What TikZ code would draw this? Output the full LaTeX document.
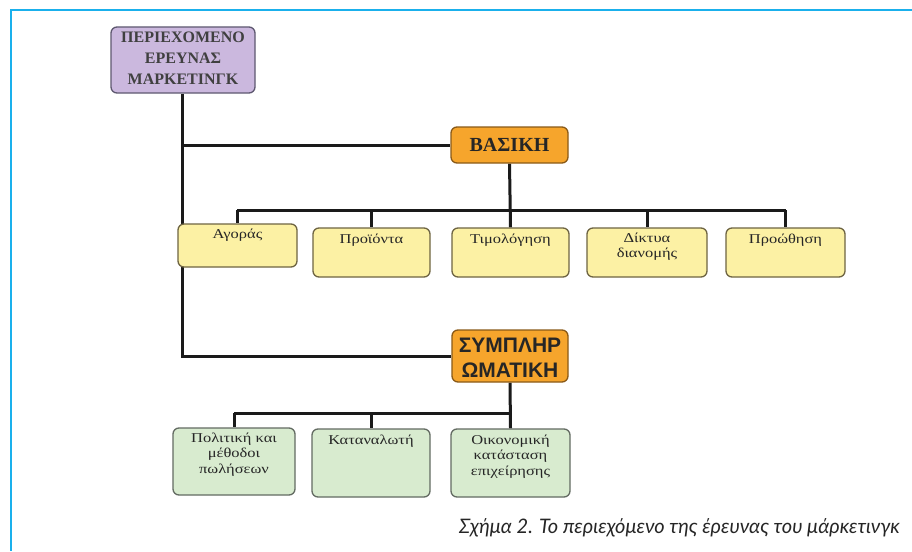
\documentclass[tikz,border=0pt]{standalone}
\usepackage{fontspec}
\setmainfont{Liberation Serif}
\newfontfamily\capfont{Lato}
\newfontfamily\boldsans{Liberation Sans}
\newfontfamily\widefont[FakeStretch=1.22]{Liberation Serif}
\usetikzlibrary{backgrounds}
\definecolor{frameblue}{HTML}{1AB0EC}
\definecolor{purplefill}{HTML}{CBB8DE}
\definecolor{purpleline}{HTML}{5E5870}
\definecolor{orangefill}{HTML}{F6A52C}
\definecolor{orangeline}{HTML}{8A5A18}
\definecolor{yellowfill}{HTML}{FCF1A4}
\definecolor{yellowline}{HTML}{6E6442}
\definecolor{greenfill}{HTML}{D8EBCF}
\definecolor{greenline}{HTML}{636B62}
\definecolor{inkline}{HTML}{1A1A1A}
\tikzset{
  boxbase/.style={draw, rounded corners=6pt, line width=1.3pt, inner sep=0pt},
  purplebox/.style={boxbase, fill=purplefill, draw=purpleline},
  orangebox/.style={boxbase, fill=orangefill, draw=orangeline},
  yellowbox/.style={boxbase, fill=yellowfill, draw=yellowline},
  greenbox/.style={boxbase, fill=greenfill, draw=greenline},
  boxtext/.style={anchor=north, align=center, inner sep=0pt, font=\widefont\fontsize{13.5}{15.5}\selectfont, text=black!85},
  conn/.style={draw=inkline, line width=3pt}
}
\begin{document}
\begin{tikzpicture}[x=1pt,y=-1pt]
\useasboundingbox (0,0) rectangle (912,551);

% boxes
\node[purplebox, minimum width=144pt, minimum height=66pt] (top) at (183,60) {};
\node[orangebox, minimum width=117pt, minimum height=36pt] (basiki) at (509.5,145) {};
\node[yellowbox, minimum width=119pt, minimum height=43pt] (agoras) at (237.5,245.5) {};
\node[yellowbox, minimum width=117pt, minimum height=49pt] (proionta) at (371.5,252.5) {};
\node[yellowbox, minimum width=117pt, minimum height=49pt] (timol) at (510.5,252.5) {};
\node[yellowbox, minimum width=120pt, minimum height=49pt] (diktya) at (647,252.5) {};
\node[yellowbox, minimum width=119pt, minimum height=49pt] (proothisi) at (785.5,252.5) {};
\node[orangebox, minimum width=116pt, minimum height=52pt] (sympl) at (510,356) {};
\node[greenbox, minimum width=122pt, minimum height=67pt] (politiki) at (234,461.5) {};
\node[greenbox, minimum width=118pt, minimum height=68pt] (katanal) at (371,463) {};
\node[greenbox, minimum width=119pt, minimum height=68pt] (oikon) at (510.5,463) {};

% texts
\node[boxtext, font=\fontsize{16}{21}\selectfont\bfseries, text=black!75] (toptext) at ([yshift=-5pt]top.north) {ΠΕΡΙΕΧΟΜΕΝΟ\\ΕΡΕΥΝΑΣ\\ΜΑΡΚΕΤΙΝΓΚ};
\node[inner sep=0pt, font=\fontsize{20}{22}\selectfont\bfseries, text=black!85] (basikitext) at (basiki) {ΒΑΣΙΚΗ};
\node[boxtext] (agorastext) at ([yshift=-5pt]agoras.north) {Αγοράς};
\node[boxtext] (proiontatext) at ([yshift=-6pt]proionta.north) {Προϊόντα};
\node[boxtext] (timoltext) at ([yshift=-6pt]timol.north) {Τιμολόγηση};
\node[boxtext] (diktyatext) at ([yshift=-5pt]diktya.north) {Δίκτυα\\διανομής};
\node[boxtext] (proothisitext) at ([yshift=-6pt]proothisi.north) {Προώθηση};
\node[inner sep=0pt, align=center, font=\boldsans\fontsize{21}{25}\selectfont\bfseries, text=black!85] (sympltext) at ([yshift=-2pt]sympl) {ΣΥΜΠΛΗΡ\\ΩΜΑΤΙΚΗ};
\node[boxtext] (politikitext) at ([yshift=-5pt]politiki.north) {Πολιτική και\\μέθοδοι\\πωλήσεων};
\node[boxtext] (katanaltext) at ([yshift=-6pt]katanal.north) {Καταναλωτή};
\node[boxtext] (oikontext) at ([yshift=-6pt]oikon.north) {Οικονομική\\κατάσταση\\επιχείρησης};

\node[anchor=south east, inner sep=0pt, font=\capfont\itshape\fontsize{20}{24}\selectfont, text=black!85] (caption) at (900,537) {Σχήμα 2. Το περιεχόμενο της έρευνας του μάρκετινγκ};

% connectors
\coordinate (busA) at (510,210);
\coordinate (busB) at (510,413);
\begin{scope}[on background layer]
\fill[white] (0,0) rectangle (912,551);
\draw[frameblue, line width=2.5pt] (912,10) -- (11,10) -- (11,551);
\draw[conn] ([xshift=-1pt]top.south) -- ([xshift=-1pt]top.south |- sympl.west) -- (sympl.west);
\draw[conn] ([xshift=-1pt]top.south |- basiki.west) -- (basiki.west);
\draw[conn] (basiki.south) -- (timol.north);
\draw[conn] ([xshift=-0.5pt]agoras.north |- busA) -- (proothisi.north |- busA);
\draw[conn] ([xshift=-0.5pt]agoras.north |- busA) -- ([xshift=-0.5pt]agoras.north);
\draw[conn] (proionta.north |- busA) -- (proionta.north);
\draw[conn] (diktya.north |- busA) -- (diktya.north);
\draw[conn] (proothisi.north |- busA) -- (proothisi.north);
\draw[conn] (sympl.south) -- (oikon.north);
\draw[conn] (politiki.north |- busB) -- (oikon.north |- busB);
\draw[conn] (politiki.north |- busB) -- (politiki.north);
\draw[conn] (katanal.north |- busB) -- (katanal.north);
\end{scope}
\end{tikzpicture}
\end{document}
